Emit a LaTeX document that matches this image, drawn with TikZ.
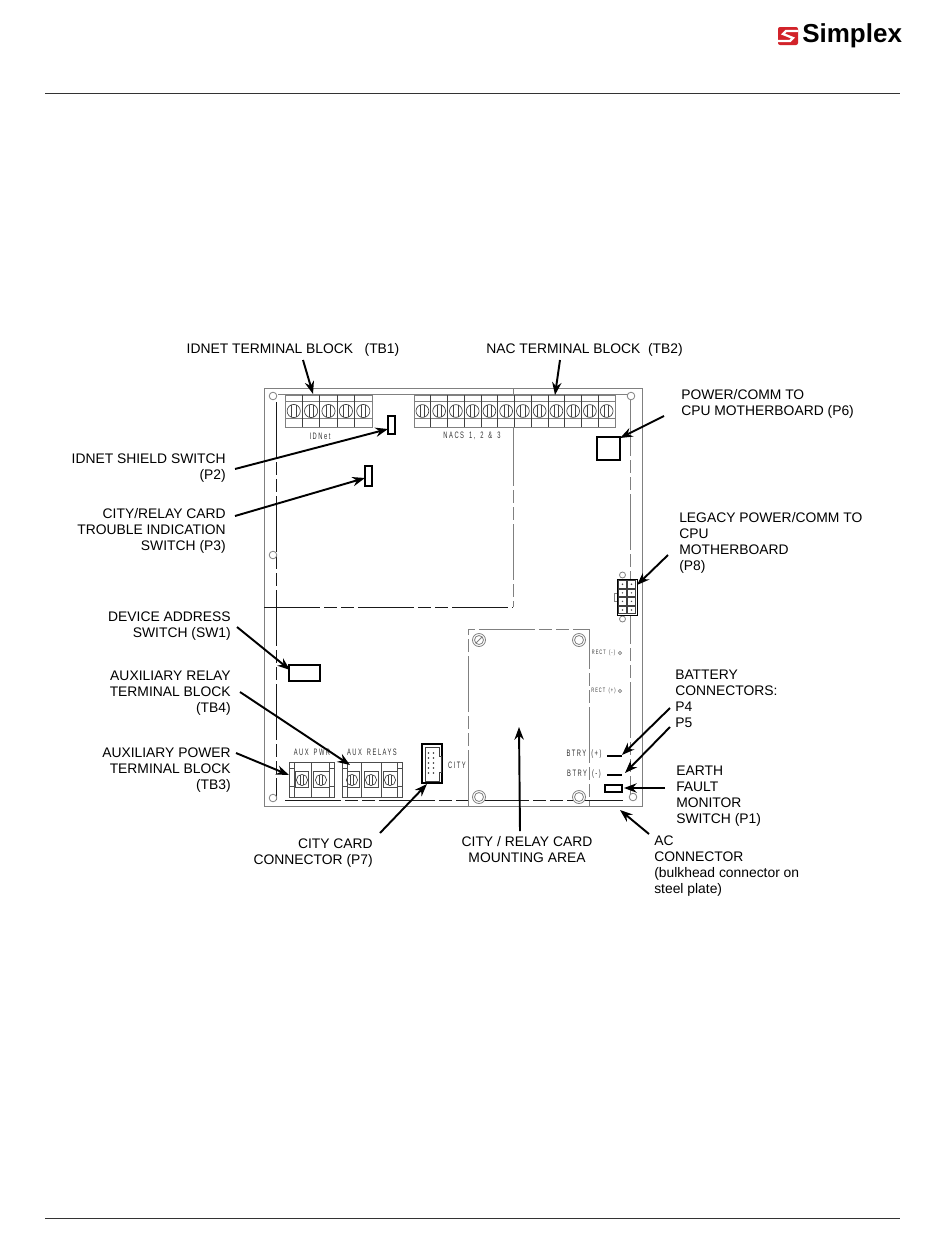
\documentclass[tikz,border=0pt]{standalone}
\usepackage{fontspec}
\setmainfont{Liberation Sans}
\newfontfamily\techfont[LetterSpace=16,FakeStretch=0.62,WordSpace=1.6]{Liberation Sans}
\usetikzlibrary{arrows.meta}
\definecolor{pcb}{gray}{0.5}
\definecolor{simplexred}{HTML}{D2232A}
\tikzset{
 x=0.75pt,y=-0.75pt,
 lbl/.style={inner sep=0pt,font=\fontsize{10.4}{12}\selectfont,text=black},
 lblL/.style={lbl,anchor=north west,align=left},
 lblR/.style={lbl,anchor=north east,align=right},
 lblC/.style={lbl,anchor=north,align=center},
 callout/.style={line width=1.45pt,-{Stealth[length=9.5pt,width=7pt]},black},
 board/.style={line width=0.6pt,draw=pcb},
 longdash/.style={dash pattern=on 42pt off 3pt on 9.75pt off 3pt on 9.75pt off 3pt},
 dashline/.style={line width=0.6pt,draw=pcb,longdash},
 blackdash/.style={line width=0.75pt,draw=black!90,longdash},
 part/.style={line width=1pt,draw=black},
 thinpart/.style={line width=0.5pt,draw=black!75},
 block/.style={line width=0.65pt,draw=black!70},
 tech/.style={inner sep=0pt,font=\techfont\fontsize{7}{8}\selectfont,text=black!80},
 techsmall/.style={inner sep=0pt,font=\techfont\fontsize{4.8}{6}\selectfont,text=black!80},
}
\begin{document}
\begin{tikzpicture}
\useasboundingbox (0,0) rectangle (950,1260);
\fill[white] (0,0) rectangle (950,1260);
% header / footer
\draw[line width=0.6pt,black!80] (45,93.5) -- (900,93.5);
\draw[line width=0.6pt,black!80] (45,1218.5) -- (900,1218.5);
% logo
\fill[simplexred,rounded corners=1.5pt] (778,27) rectangle (798,45);
\draw[white,line width=1.7pt] (798,31) -- (786,31) -- (783,34) -- (793,38) -- (790,41) -- (778,41);
\node[inner sep=0pt,anchor=west,font=\bfseries\fontsize{19.5}{22}\selectfont] (logo) at (802,36) {Simplex};
% board outline
\draw[board] (264,388) rectangle (642,806);
\draw[board] (513,388) -- (513,430);
\draw[dashline] (513,430) -- (513,607);
\draw[blackdash] (276,402) -- (276,800);
\draw[blackdash] (264,607) -- (513,607);
\draw[board] (278,394) -- (630,394);
\draw[dashline] (630,400) -- (630,800);
\draw[blackdash] (285,800.5) -- (627,800.5);
% mounting area
\draw[dashline] (468,806) -- (468,629) -- (589,629) -- (589,806);
\foreach \p in {(479,640),(579,640),(479,797),(579,797)}{
  \draw[board,fill=white] \p circle (6.5);
  \draw[board] \p circle (4.5);
}
\draw[board] (476,643) -- (482,637);
% holes
\foreach \p in {(273,396),(631,396),(273,555),(273,798),(633,797)}{
  \draw[board,fill=white] \p circle (3.8);
}
% IDNet terminals
\draw[board,fill=white] (285,427) -- (285,395) -- (372,395) -- (372,427) -- cycle;
\draw[board] (285,401) -- (372,401);
\draw[board] (285,418) -- (372,418);
\foreach \i in {0,...,4}{
  \pgfmathsetmacro\xx{285+\i*17.4}
  \ifnum\i>0 \draw[thinpart] (\xx,395) -- (\xx,427);\fi
  \draw[thinpart] (\xx+8.7,411) circle (6.6);
  \draw[thinpart] (\xx+6.5,405) -- (\xx+6.5,417);
  \draw[thinpart] (\xx+10.9,405) -- (\xx+10.9,417);
}
% NAC terminals
\draw[board,fill=white] (414,427) -- (414,395) -- (615,395) -- (615,427) -- cycle;
\draw[board] (414,401) -- (615,401);
\draw[board] (414,418) -- (615,418);
\foreach \i in {0,...,11}{
  \pgfmathsetmacro\xx{414+\i*16.75}
  \ifnum\i>0 \draw[thinpart] (\xx,395) -- (\xx,427);\fi
  \draw[thinpart] (\xx+8.4,411) circle (6.4);
  \draw[thinpart] (\xx+6.3,405) -- (\xx+6.3,417);
  \draw[thinpart] (\xx+10.5,405) -- (\xx+10.5,417);
}
\node[tech] (idnettxt) at (320,436) {IDNet};
\node[tech] (nacstxt) at (472,436) {NACS 1, 2 \& 3};
% switches / connectors
\draw[part] (388,416) rectangle (395,434);
\draw[part] (365,466) rectangle (372,486);
\draw[line width=1.1pt,black] (597,437) rectangle (620,460);
\draw[part] (289,665) rectangle (320,681);
% P8
\draw[board,fill=white] (622.5,575) circle (3);
\draw[board,fill=white] (622.5,619) circle (3);
\draw[board] (617,593) -- (614,593) -- (614,601) -- (617,601);
\draw[line width=0.7pt,black,fill=white] (617,579) rectangle (637,615);
\foreach \r in {0,...,3}{\foreach \c in {0,1}{
  \draw[thinpart] (618.5+\c*9,580.5+\r*8.6) rectangle (626.5+\c*9,588+\r*8.6);
  \fill[black!70] (622.5+\c*9,584.2+\r*8.6) circle (0.8);
}}
% AUX PWR
\node[tech] (auxpwr) at (312,752.5) {AUX PWR};
\node[tech] (auxrel) at (372,752.5) {AUX RELAYS};
\draw[block] (289,762) rectangle (334,797);
\draw[block] (294,762) -- (294,797) (329,762) -- (329,797) (311,762) -- (311,797);
\draw[block] (289,768) -- (294,768) (289,786) -- (294,786) (329,768) -- (334,768) (329,786) -- (334,786);
\draw[block] (295,771) rectangle (308,787) (313,771) rectangle (329,787);
\foreach \x in {302,321}{
  \draw[thinpart] (\x,780) circle (5.6);
  \draw[thinpart] (\x-1.5,775) -- (\x-1.5,785) (\x+1.5,775) -- (\x+1.5,785);
}
% AUX RELAYS
\draw[block] (342,762) rectangle (402,797);
\draw[block] (347,762) -- (347,797) (397,762) -- (397,797) (361,762) -- (361,797) (381,762) -- (381,797);
\draw[block] (342,768) -- (347,768) (342,786) -- (347,786) (397,768) -- (402,768) (397,786) -- (402,786);
\draw[block] (347,771) rectangle (359,787) (364,771) rectangle (378,787) (383,771) rectangle (397,787);
\foreach \x in {352,371,390}{
  \draw[thinpart] (\x,780) circle (5.6);
  \draw[thinpart] (\x-1.5,775) -- (\x-1.5,785) (\x+1.5,775) -- (\x+1.5,785);
}
% CITY connector
\draw[line width=0.8pt,black] (422,744) rectangle (442,783);
\draw[thinpart] (425,747) -- (439,747) -- (439,756) -- (441,756) -- (441,772) -- (439,772) -- (439,781) -- (425,781) -- cycle;
\foreach \r in {0,...,4}{\foreach \c in {0,1}{
  \fill[black!80] (428.5+\c*5,753+\r*5) circle (0.8);
}}
\node[tech] (citytxt) at (457,765) {CITY};
% right side small text
\node[techsmall] (rectm) at (603.5,653) {RECT (-)};
\draw[board] (620,653) circle (1.6);
\node[techsmall] (rectp) at (603.5,691) {RECT (+)};
\draw[board] (620,691) circle (1.6);
\node[tech] (btryp) at (584,754) {BTRY (+)};
\node[tech] (btrym) at (584,774) {BTRY (-)};
% P4 P5 P1
\draw[line width=1.1pt,black] (607,756) -- (622,756);
\draw[line width=1.1pt,black] (607,775) -- (622,775);
\draw[part] (605,785) rectangle (622,792);
% labels
\node[lblC] (tb1) at (293,343) {IDNET TERMINAL BLOCK\ \ \ (TB1)};
\node[lblC] (tb2) at (584.5,343) {NAC TERMINAL BLOCK\ \ (TB2)};
\node[lblL] (p6) at (681,389) {POWER/COMM TO\\CPU MOTHERBOARD (P6)};
\node[lblL] (p8) at (679,512) {LEGACY POWER/COMM TO\\CPU\\MOTHERBOARD\\(P8)};
\node[lblR] (p2) at (226,454) {IDNET SHIELD SWITCH\\(P2)};
\node[lblR] (p3) at (226,508) {CITY/RELAY CARD\\TROUBLE INDICATION\\SWITCH (P3)};
\node[lblR] (sw1) at (231,612) {DEVICE ADDRESS\\SWITCH (SW1)};
\node[lblR] (tb4) at (231,671) {AUXILIARY RELAY\\TERMINAL BLOCK\\(TB4)};
\node[lblR] (tb3) at (231,748) {AUXILIARY POWER\\TERMINAL BLOCK\\(TB3)};
\node[lblR] (p7) at (373,839) {CITY CARD\\CONNECTOR (P7)};
\node[lblC] (mount) at (527,836) {CITY / RELAY CARD\\MOUNTING AREA};
\node[lblL] (batt) at (675,670) {BATTERY\\CONNECTORS:\\P4\\P5};
\node[lblL] (p1) at (676,766) {EARTH\\FAULT\\MONITOR\\SWITCH (P1)};
\node[lblL] (ac) at (654,836) {AC\\CONNECTOR\\(bulkhead connector on\\steel plate)};
% arrow ends
\coordinate (a1s) at (303,360); \coordinate (a1e) at (313,394);
\coordinate (a2s) at (560,360); \coordinate (a2e) at (555,395);
\coordinate (a3s) at (664,416); \coordinate (a3e) at (620,438);
\coordinate (a4s) at (668,555); \coordinate (a4e) at (637,585);
\coordinate (a5s) at (235,469); \coordinate (a5e) at (388,429);
\coordinate (a6s) at (235,516); \coordinate (a6e) at (365,478);
\coordinate (a7s) at (237,627); \coordinate (a7e) at (290,670);
\coordinate (a8s) at (240,692); \coordinate (a8e) at (350,765);
\coordinate (a9s) at (236,753); \coordinate (a9e) at (289,775);
\coordinate (a10s) at (380,833); \coordinate (a10e) at (427,784);
\coordinate (a11s) at (520,831); \coordinate (a11e) at (519,727);
\coordinate (a12s) at (670,708); \coordinate (a12e) at (622,755);
\coordinate (a13s) at (670,727); \coordinate (a13e) at (625,773);
\coordinate (a14s) at (665,788); \coordinate (a14e) at (624,788);
\coordinate (a15s) at (649,834); \coordinate (a15e) at (620,810);
\foreach \n in {1,...,15}{ \draw[callout] (a\n s) -- (a\n e); }
\end{tikzpicture}
\end{document}
